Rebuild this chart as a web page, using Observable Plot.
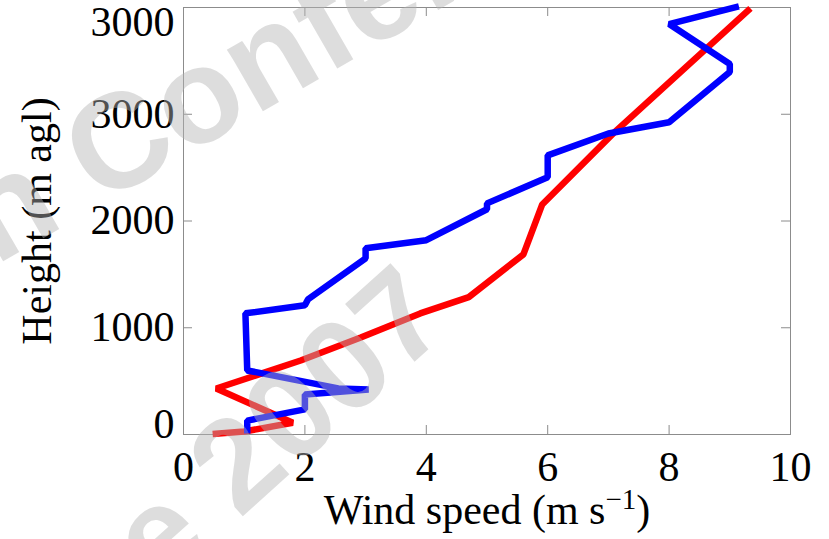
<!DOCTYPE html>
<html>
<head>
<meta charset="utf-8">
<script src="https://cdn.jsdelivr.net/npm/d3@7"></script>
<script src="https://cdn.jsdelivr.net/npm/@observablehq/plot@0.6"></script>
<style>
  body { margin: 0; background: #fff; }
  #wrap { position: relative; width: 829px; height: 539px; overflow: hidden; background: #fff; }
  #wrap svg { display: block; }
</style>
</head>
<body>
<div id="wrap"></div>
<script>
// ---- data ----
const redSpeed  = [0.48, 1.0, 1.8, 0.54, 1.93, 2.92, 3.9, 4.7, 5.6, 5.91, 7.08, 9.34];
const redHeight = [5, 28, 110, 431, 693, 909, 1134, 1287, 1687, 2155, 2821, 3992];

const blueSpeed  = [1.05, 1.05, 2.0, 2.0, 3.05, 2.55, 1.05, 1.02, 2.0, 2.05, 3.0, 3.0, 4.0, 5.0, 5.0, 6.0, 6.0, 7.0, 8.0, 9.0, 9.0, 8.0, 9.15];
const blueHeight = [10, 130, 235, 375, 422, 432, 600, 1135, 1210, 1265, 1650, 1745, 1820, 2110, 2165, 2410, 2615, 2820, 2925, 3395, 3470, 3845, 4010];

const xTicks = [0, 2, 4, 6, 8, 10];
const yTicks = [0, 1000, 2000, 3000, 4000];
const yTickLabels = ["0", "1000", "2000", "3000", "3000"];

const xLabel = "Wind speed (m s";
const xLabelSup = "\u22121";
const yLabel = "Height (m agl)";
const watermark1 = "n Conference";
const watermark2 = "ge 2007";

// ---- build tables ----
const red = redSpeed.map((s, i) => ({speed: s, height: redHeight[i]}));
const blue = blueSpeed.map((s, i) => ({speed: s, height: blueHeight[i]}));
const yFmt = d => yTickLabels[yTicks.indexOf(d)];

const W = 829, H = 539, mL = 183, mR = 39, mT = 7, mB = 105;
const frameH = H - mT - mB;
const frameW = W - mL - mR;
const tickLen = 9;
const gray = "#8c8c8c";

const chart = Plot.plot({
  width: W,
  height: H,
  marginLeft: mL,
  marginRight: mR,
  marginTop: mT,
  marginBottom: mB,
  style: {fontFamily: "'Liberation Serif', 'Times New Roman', serif", fontSize: "42px", background: "#fff", color: "#000", overflow: "visible"},
  x: {domain: [0, 10]},
  y: {domain: [0, 4000]},
  marks: [
    Plot.frame({stroke: gray, strokeWidth: 1}),
    // inward ticks
    Plot.ruleX(xTicks.slice(1, -1), {insetTop: frameH - tickLen, stroke: gray}),
    Plot.ruleX(xTicks.slice(1, -1), {insetBottom: frameH - tickLen, stroke: gray}),
    Plot.ruleY(yTicks.slice(1, -1), {insetRight: frameW - tickLen, stroke: gray}),
    Plot.ruleY(yTicks.slice(1, -1), {insetLeft: frameW - tickLen, stroke: gray}),
    // tick labels
    Plot.axisX(xTicks, {tickSize: 0, tickPadding: 17, label: null, fontSize: 42, fill: "#000"}),
    Plot.axisY(yTicks.slice(1, -1), {tickSize: 0, tickPadding: 9, label: null, tickFormat: yFmt, fontSize: 42, fill: "#000"}),
    Plot.axisY(yTicks.slice(0, 1), {tickSize: 0, tickPadding: 9, label: null, tickFormat: yFmt, fontSize: 42, fill: "#000", dy: -10}),
    Plot.axisY(yTicks.slice(-1), {tickSize: 0, tickPadding: 9, label: null, tickFormat: yFmt, fontSize: 42, fill: "#000", dy: 15}),
    // axis titles
    Plot.text([xLabel], {frameAnchor: "bottom", dy: 76, fontSize: 42, fill: "#000", textAnchor: "middle", lineAnchor: "middle"}),
    Plot.text([yLabel], {frameAnchor: "left", rotate: -90, dx: -146, fontSize: 42, fill: "#000", textAnchor: "middle", lineAnchor: "middle"}),
    // data
    Plot.line(red, {x: "speed", y: "height", stroke: "#ff0000", strokeWidth: 6.5, strokeLinejoin: "miter", strokeLinecap: "butt"}),
    Plot.line(blue, {x: "speed", y: "height", stroke: "#0000ff", strokeWidth: 6.5, strokeLinejoin: "miter", strokeLinecap: "butt"})
  ]
});

// superscript on the x label
chart.querySelectorAll("text").forEach(t => {
  if (t.textContent === xLabel) {
    const ns = "http://www.w3.org/2000/svg";
    t.textContent = "";
    t.appendChild(document.createTextNode(xLabel));
    const sup = document.createElementNS(ns, "tspan");
    sup.setAttribute("dy", "-15");
    sup.setAttribute("font-size", "29");
    sup.textContent = xLabelSup;
    t.appendChild(sup);
    const close = document.createElementNS(ns, "tspan");
    close.setAttribute("dy", "15");
    close.textContent = ")";
    t.appendChild(close);
  }
});

const wrap = document.getElementById("wrap");
wrap.appendChild(chart);

// watermark overlay
const ns = "http://www.w3.org/2000/svg";
const ov = document.createElementNS(ns, "svg");
ov.setAttribute("width", W);
ov.setAttribute("height", H);
ov.style.position = "absolute";
ov.style.left = "0";
ov.style.top = "0";
ov.style.pointerEvents = "none";
[[watermark1, -5, 266, -30, 135], [watermark2, 100, 645, -42, 130]].forEach(([s, x, y, a, fs]) => {
  const t = document.createElementNS(ns, "text");
  t.setAttribute("x", x);
  t.setAttribute("y", y);
  t.setAttribute("transform", `rotate(${a} ${x} ${y})`);
  t.setAttribute("font-family", "'Liberation Sans', Arial, sans-serif");
  t.setAttribute("font-weight", "bold");
  t.setAttribute("font-size", fs);
  t.setAttribute("fill", "rgb(180,180,180)");
  t.setAttribute("fill-opacity", "0.45");
  t.textContent = s;
  ov.appendChild(t);
});
wrap.appendChild(ov);
</script>
</body>
</html>
